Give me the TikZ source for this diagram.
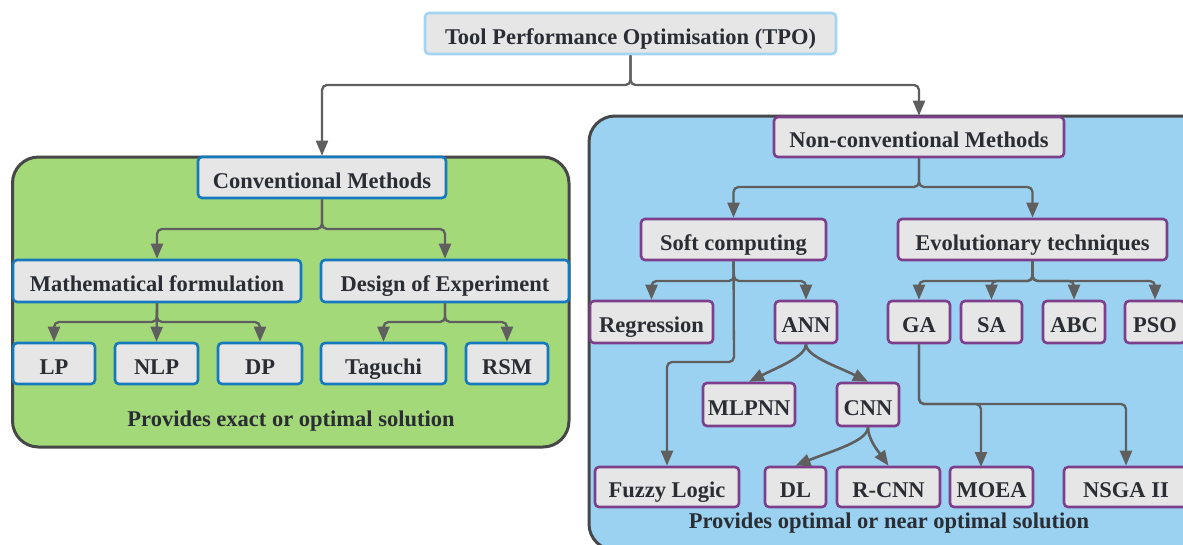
\documentclass[tikz,border=0pt]{standalone}
\usepackage{fontspec}
\setmainfont{Liberation Serif}
\usetikzlibrary{arrows.meta,calc}
\definecolor{boxfill}{HTML}{E6E6E6}
\definecolor{tpoborder}{HTML}{A3D5F2}
\definecolor{convborder}{HTML}{1679BD}
\definecolor{nonborder}{HTML}{7D3F8C}
\definecolor{greenfill}{HTML}{A4D97A}
\definecolor{bluefill}{HTML}{9BD2F2}
\definecolor{framec}{HTML}{474747}
\definecolor{linec}{HTML}{5F5F5F}
\definecolor{textc}{HTML}{2A2D33}
\tikzset{
  box/.style={draw, fill=boxfill, rounded corners=4pt, line width=2.6pt, inner sep=0pt,
    text height=21pt, text depth=0pt,
    text=textc, font=\bfseries\fontsize{22.5}{26}\selectfont},
  tpob/.style={box, draw=tpoborder},
  convb/.style={box, draw=convborder},
  nonb/.style={box, draw=nonborder},
  frame/.style={draw=framec, line width=3pt, rounded corners=26pt},
  conn/.style={draw=linec, line width=2.3pt, rounded corners=5pt,
    -{Triangle[length=15pt,width=12pt]}},
  curv/.style={draw=linec, line width=2.6pt,
    -{Triangle[length=15pt,width=12pt]}},
  caption/.style={text=textc, font=\bfseries\fontsize{22.5}{26}\selectfont}
}
\begin{document}
\begin{tikzpicture}[x=1pt,y=1pt]
\useasboundingbox (0,0) rectangle (1183,-544);
\clip (0,0) rectangle (1183,-544);

% containers
\draw[frame, fill=greenfill] (12.5,-157) rectangle (569,-447);
\draw[frame, fill=bluefill] (589,-116) rectangle (1215,-550);

% top
\node[tpob, minimum width=411, minimum height=41] (tpo) at (630.5,-33.5) {Tool Performance Optimisation (TPO)};

% conventional
\node[convb, minimum width=248, minimum height=41] (conv) at (322,-177.5) {Conventional Methods};
\node[convb, minimum width=288, minimum height=42] (math) at (157,-281) {Mathematical formulation};
\node[convb, minimum width=248, minimum height=42] (doe) at (445,-281) {Design of Experiment};
\node[convb, minimum width=82, minimum height=41] (lp) at (54,-363.5) {LP};
\node[convb, minimum width=83, minimum height=41] (nlp) at (156.5,-363.5) {NLP};
\node[convb, minimum width=84, minimum height=41] (dp) at (260,-363.5) {DP};
\node[convb, minimum width=125, minimum height=41] (tag) at (383.5,-363.5) {Taguchi};
\node[convb, minimum width=82, minimum height=41] (rsm) at (507,-363.5) {RSM};
\node[caption] (capg) at (291,-421) {Provides exact or optimal solution};

% non-conventional
\node[nonb, minimum width=290, minimum height=40] (non) at (919,-137) {Non-conventional Methods};
\node[nonb, minimum width=185, minimum height=41] (soft) at (733.5,-239.5) {Soft computing};
\node[nonb, minimum width=269, minimum height=41] (evol) at (1032.5,-239.5) {Evolutionary techniques};
\node[nonb, minimum width=123, minimum height=42] (reg) at (651.5,-322) {Regression};
\node[nonb, minimum width=62, minimum height=42] (ann) at (806,-322) {ANN};
\node[nonb, minimum width=62, minimum height=42] (ga) at (919,-322) {GA};
\node[nonb, minimum width=61, minimum height=42] (sa) at (991.5,-322) {SA};
\node[nonb, minimum width=62, minimum height=42] (abc) at (1074,-322) {ABC};
\node[nonb, minimum width=60, minimum height=42] (pso) at (1155,-322) {PSO};
\node[nonb, minimum width=92, minimum height=43] (mlp) at (749,-404.5) {MLPNN};
\node[nonb, minimum width=62, minimum height=43] (cnn) at (868,-404.5) {CNN};
\node[nonb, minimum width=144, minimum height=40] (fuzzy) at (667,-487) {Fuzzy Logic};
\node[nonb, minimum width=61, minimum height=40] (dl) at (795.5,-487) {DL};
\node[nonb, minimum width=103, minimum height=40] (rcnn) at (888.5,-487) {R-CNN};
\node[nonb, minimum width=83, minimum height=40] (moea) at (991.5,-487) {MOEA};
\node[nonb, minimum width=124, minimum height=40] (nsga) at (1126,-487) {NSGA II};
\node[caption] (capb) at (889,-523) {Provides optimal or near optimal solution};

% junctions
\coordinate (j0) at (630.5,-85);
\coordinate (j1) at (322,-229);
\coordinate (j2) at (157,-322);
\coordinate (j3) at (445,-322);
\coordinate (j4) at (919,-187);
\coordinate (j5) at (734,-281);
\coordinate (j6) at (1032.5,-281);
\coordinate (j7) at (734,-362);
\coordinate (j8) at (919,-404);
\coordinate (moeain) at (981,-467);

% connectors
\draw[conn] (tpo.south) -- (j0) -| (conv.north);
\draw[conn] (tpo.south) -- (j0) -| (non.north);
\draw[conn] (conv.south) -- (j1) -| (math.north);
\draw[conn] (conv.south) -- (j1) -| (doe.north);
\draw[conn] (math.south) -- (j2) -| (lp.north);
\draw[conn] (math.south) -- (nlp.north);
\draw[conn] (math.south) -- (j2) -| (dp.north);
\draw[conn] (doe.south) -- (j3) -| (tag.north);
\draw[conn] (doe.south) -- (j3) -| (rsm.north);
\draw[conn] (non.south) -- (j4) -| (soft.north);
\draw[conn] (non.south) -- (j4) -| (evol.north);
\draw[conn] (soft.south) -- (j5) -| (reg.north);
\draw[conn] (soft.south) -- (j5) -| (ann.north);
\draw[conn] (soft.south) -- (j7) -| (fuzzy.north);
\draw[conn] (evol.south) -- (j6) -| (ga.north);
\draw[conn] (evol.south) -- (j6) -| (sa.north);
\draw[conn] (evol.south) -- (j6) -| (abc.north);
\draw[conn] (evol.south) -- (j6) -| (pso.north);
\draw[conn] (ga.south) -- (j8) -| (moeain);
\draw[conn] (ga.south) -- (j8) -| (nsga.north);
\draw[curv] (ann.south) .. controls +(0,-12) and +(30,15) .. (mlp.north);
\draw[curv] (ann.south) .. controls +(0,-12) and +(-30,15) .. (cnn.north);
\draw[curv] (cnn.south) .. controls +(0,-14) and +(34,14) .. (dl.north);
\draw[curv] (cnn.south) .. controls +(0,-12) and +(-10,14) .. (rcnn.north);
\end{tikzpicture}
\end{document}
